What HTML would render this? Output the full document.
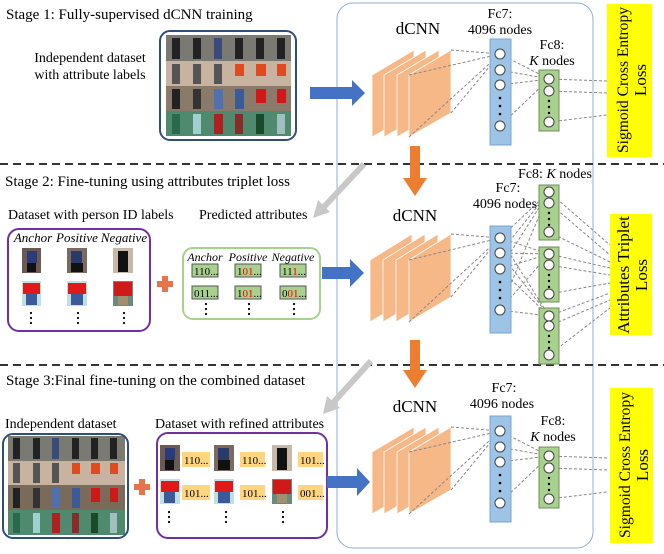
<!DOCTYPE html>
<html><head><meta charset="utf-8"><style>
html,body{margin:0;padding:0;background:#fff;}
svg{display:block;font-family:"Liberation Serif",serif;}
</style></head><body>
<svg width="664" height="554" viewBox="0 0 664 554" xmlns="http://www.w3.org/2000/svg">
<defs>
<g id="layers1">
<polygon points="372,75 414,50 414,113 372,137" fill="#F7B888" stroke="#fff" stroke-width="0.8"/>
<polygon points="384,75 426,50 426,113 384,137" fill="#F7B888" stroke="#fff" stroke-width="0.8"/>
<polygon points="397,75 439,50 439,113 397,137" fill="#F7B888" stroke="#fff" stroke-width="0.8"/>
<polygon points="409,75 451,50 451,113 409,137" fill="#F7B888" stroke="#fff" stroke-width="0.8"/>
</g>
<g id="net1">
<use href="#layers1"/>
<g stroke="#888" stroke-width="1" stroke-dasharray="3,2" fill="none">
<line x1="451" y1="50" x2="500" y2="54"/><line x1="409" y1="75" x2="500" y2="54"/>
<line x1="451" y1="113" x2="500" y2="54"/><line x1="409" y1="137" x2="500" y2="54"/>
<line x1="500" y1="54" x2="549" y2="79"/><line x1="500" y1="70" x2="549" y2="79"/>
<line x1="500" y1="85" x2="549" y2="79"/><line x1="500" y1="126" x2="549" y2="79"/>
<line x1="549" y1="79" x2="607" y2="81"/><line x1="549" y1="91" x2="607" y2="93"/>
<line x1="549" y1="122" x2="607" y2="115"/>
</g>
<rect x="490" y="39" width="21" height="106" fill="#9DC3E6" stroke="#7AA6D0"/>
<g fill="#fff" stroke="#444" stroke-width="1">
<circle cx="500" cy="54" r="5"/><circle cx="500" cy="70" r="5"/><circle cx="500" cy="85" r="5"/><circle cx="500" cy="126" r="5"/>
</g>
<g fill="#000"><circle cx="500" cy="98" r="1.3"/><circle cx="500" cy="106" r="1.3"/><circle cx="500" cy="114" r="1.3"/></g>
<rect x="539" y="70" width="20" height="61" fill="#A9D18E" stroke="#6F8F5A"/>
<g fill="#fff" stroke="#444" stroke-width="1">
<circle cx="549" cy="79" r="5"/><circle cx="549" cy="91" r="5"/><circle cx="549" cy="122" r="5"/>
</g>
<g fill="#000"><circle cx="549" cy="101" r="1.2"/><circle cx="549" cy="107" r="1.2"/><circle cx="549" cy="113" r="1.2"/></g>
</g>
</defs>

<rect x="337" y="3" width="256" height="545" rx="16" fill="none" stroke="#8EAFD0" stroke-width="1"/>
<line x1="0" y1="164" x2="664" y2="164" stroke="#333" stroke-width="2" stroke-dasharray="8,5"/>
<line x1="0" y1="365" x2="664" y2="365" stroke="#333" stroke-width="2" stroke-dasharray="8,5"/>

<!-- Stage 1 -->
<text x="6" y="19" font-size="15">Stage 1: Fully-supervised dCNN training</text>
<text x="90" y="62" font-size="14" text-anchor="middle">Independent dataset</text>
<text x="90" y="79" font-size="14" text-anchor="middle">with attribute labels</text>
<g>
<rect x="166" y="35" width="125" height="26" fill="#7a7a72"/>
<rect x="166" y="61" width="125" height="25" fill="#c7b3a0"/>
<rect x="166" y="86" width="125" height="25" fill="#8a7a6a"/>
<rect x="166" y="111" width="125" height="25" fill="#4f8a6e"/>
<g fill="#222"><rect x="172" y="38" width="8" height="21"/><rect x="193" y="38" width="8" height="21"/><rect x="214" y="38" width="8" height="21" fill="#3a4a7a"/><rect x="235" y="38" width="8" height="21"/><rect x="256" y="38" width="8" height="21"/><rect x="277" y="38" width="8" height="21"/></g>
<g fill="#555"><rect x="172" y="64" width="8" height="20"/><rect x="193" y="64" width="8" height="20"/><rect x="214" y="64" width="8" height="20"/></g>
<g fill="#e04a20"><rect x="235" y="64" width="9" height="12"/><rect x="256" y="64" width="10" height="12"/><rect x="277" y="64" width="9" height="12"/></g>
<g><rect x="172" y="89" width="8" height="20" fill="#222"/><rect x="193" y="89" width="8" height="20" fill="#333"/><rect x="214" y="89" width="9" height="20" fill="#5070b0"/><rect x="235" y="89" width="9" height="20" fill="#3a5a9a"/><rect x="256" y="89" width="10" height="14" fill="#d01818"/><rect x="277" y="89" width="9" height="14" fill="#d01818"/></g>
<g><rect x="172" y="114" width="8" height="20" fill="#2a6a4a"/><rect x="193" y="114" width="8" height="20" fill="#a0d0d0"/><rect x="214" y="114" width="9" height="20" fill="#b02020"/><rect x="235" y="114" width="8" height="20" fill="#8a2a2a"/><rect x="256" y="114" width="8" height="20" fill="#1a4a2a"/><rect x="277" y="114" width="8" height="20" fill="#a0c0c0"/></g>
</g>
<rect x="160" y="31" width="136" height="109" rx="10" fill="none" stroke="#2F4F7A" stroke-width="2"/>
<polygon points="310,87 352,87 352,80 365,93 352,106 352,99 310,99" fill="#4472C4"/>

<use href="#net1"/>
<text x="418" y="34" font-size="17" text-anchor="middle">dCNN</text>
<text x="500" y="18" font-size="14" text-anchor="middle">Fc7:</text>
<text x="500" y="34" font-size="14" text-anchor="middle">4096 nodes</text>
<text x="552" y="49" font-size="14" text-anchor="middle">Fc8:</text>
<text x="552" y="65" font-size="14" text-anchor="middle"><tspan font-style="italic">K</tspan> nodes</text>
<rect x="607" y="4" width="45" height="153" fill="#FFFF00"/>
<text transform="translate(628,80) rotate(-90)" font-size="16" text-anchor="middle" textLength="146" lengthAdjust="spacingAndGlyphs">Sigmoid Cross Entropy</text>
<text transform="translate(646,80) rotate(-90)" font-size="17" text-anchor="middle">Loss</text>

<polygon points="410,146 420,146 420,178 427,178 415,196 403,178 410,178" fill="#ED7D31"/>
<polygon points="410,340 420,340 420,370 427,370 415,388 403,370 410,370" fill="#ED7D31"/>
<line x1="364" y1="164" x2="322" y2="209" stroke="#C8C8C8" stroke-width="6"/>
<polygon points="313,218 318,200 330,212" fill="#C8C8C8"/>
<line x1="371" y1="361" x2="331" y2="405" stroke="#C8C8C8" stroke-width="6"/>
<polygon points="323,414 327,396 340,408" fill="#C8C8C8"/>

<!-- Stage 2 -->
<text x="5" y="186" font-size="15">Stage 2: Fine-tuning using attributes triplet loss</text>
<text x="8" y="219" font-size="14">Dataset with person ID labels</text>
<text x="199" y="219" font-size="14">Predicted attributes</text>
<rect x="8" y="229" width="142" height="102" rx="11" fill="none" stroke="#7030A0" stroke-width="2"/>
<g font-size="13" font-style="italic" text-anchor="middle">
<text x="33" y="242">Anchor</text><text x="77" y="242">Positive</text><text x="124" y="242">Negative</text>
</g>
<g>
<rect x="22" y="248" width="19" height="25" fill="#6a5a52"/><rect x="27" y="251" width="10" height="12" fill="#2a3a7a"/><rect x="27" y="263" width="9" height="9" fill="#111"/>
<rect x="67" y="248" width="20" height="25" fill="#7a6a62"/><rect x="71" y="251" width="11" height="12" fill="#2a3a6a"/><rect x="71" y="263" width="12" height="9" fill="#111"/>
<rect x="113" y="248" width="20" height="25" fill="#c8b8a8"/><rect x="118" y="251" width="10" height="21" fill="#111"/>
<rect x="22" y="281" width="19" height="25" fill="#bfe0e0"/><rect x="23" y="283" width="17" height="11" fill="#e01818"/><rect x="26" y="294" width="11" height="11" fill="#3a5a9a"/>
<rect x="67" y="281" width="20" height="25" fill="#bfe0e0"/><rect x="68" y="283" width="18" height="11" fill="#e01818"/><rect x="71" y="294" width="12" height="11" fill="#3a5a9a"/>
<rect x="113" y="281" width="20" height="25" fill="#6a8a80"/><rect x="114" y="282" width="18" height="14" fill="#d01a1a"/><rect x="118" y="296" width="10" height="9" fill="#a09070"/>
</g>
<g fill="#000"><circle cx="31" cy="313" r="1.1"/><circle cx="31" cy="318" r="1.1"/><circle cx="31" cy="323" r="1.1"/>
<circle cx="78" cy="313" r="1.1"/><circle cx="78" cy="318" r="1.1"/><circle cx="78" cy="323" r="1.1"/>
<circle cx="124" cy="313" r="1.1"/><circle cx="124" cy="318" r="1.1"/><circle cx="124" cy="323" r="1.1"/></g>
<rect x="157" y="281" width="16" height="6" fill="#E8734A"/><rect x="162" y="276" width="6" height="16" fill="#E8734A"/>
<rect x="183" y="248" width="137" height="71" rx="10" fill="none" stroke="#A9D18E" stroke-width="2"/>
<g font-size="12" font-style="italic" text-anchor="middle">
<text x="205" y="261">Anchor</text><text x="248" y="261">Positive</text><text x="293" y="261">Negative</text>
</g>
<g fill="#A9D18E" stroke="#555" stroke-width="1">
<rect x="192" y="264" width="26" height="13"/><rect x="235" y="264" width="26" height="13"/><rect x="280" y="264" width="26" height="13"/>
<rect x="192" y="286" width="26" height="13"/><rect x="235" y="286" width="26" height="13"/><rect x="280" y="286" width="26" height="13"/>
</g>
<g font-size="11">
<text x="194" y="275">110...</text>
<text x="237" y="275"><tspan>1</tspan><tspan fill="#e00">01</tspan>...</text>
<text x="282" y="275">11<tspan fill="#e00">1</tspan>...</text>
<text x="194" y="297">011...</text>
<text x="237" y="297">1<tspan fill="#e00">01</tspan>...</text>
<text x="282" y="297">0<tspan fill="#e00">01</tspan>...</text>
</g>
<g fill="#000"><circle cx="206" cy="304" r="1.1"/><circle cx="206" cy="309" r="1.1"/><circle cx="206" cy="314" r="1.1"/>
<circle cx="249" cy="304" r="1.1"/><circle cx="249" cy="309" r="1.1"/><circle cx="249" cy="314" r="1.1"/>
<circle cx="294" cy="304" r="1.1"/><circle cx="294" cy="309" r="1.1"/><circle cx="294" cy="314" r="1.1"/></g>
<polygon points="322,267 350,267 350,259 364,273 350,287 350,279 322,279" fill="#4472C4"/>

<g fill="#F7B888" stroke="#fff" stroke-width="0.8">
<polygon points="370,260 412,234 412,297 370,322"/>
<polygon points="383,260 425,234 425,297 383,322"/>
<polygon points="396,260 438,234 438,297 396,322"/>
<polygon points="409,260 451,234 451,297 409,322"/>
</g>
<g stroke="#888" stroke-width="1" stroke-dasharray="3,2" fill="none">
<line x1="451" y1="234" x2="500" y2="238"/><line x1="409" y1="260" x2="500" y2="238"/>
<line x1="451" y1="297" x2="500" y2="238"/><line x1="409" y1="322" x2="500" y2="238"/>
<line x1="500" y1="238" x2="549" y2="192"/><line x1="500" y1="253" x2="549" y2="192"/><line x1="500" y1="269" x2="549" y2="192"/><line x1="500" y1="310" x2="549" y2="192"/>
<line x1="500" y1="238" x2="549" y2="254"/><line x1="500" y1="253" x2="549" y2="254"/><line x1="500" y1="269" x2="549" y2="254"/><line x1="500" y1="310" x2="549" y2="254"/>
<line x1="500" y1="238" x2="549" y2="316"/><line x1="500" y1="253" x2="549" y2="316"/><line x1="500" y1="269" x2="549" y2="316"/><line x1="500" y1="310" x2="549" y2="316"/>
<line x1="549" y1="192" x2="610" y2="245"/><line x1="549" y1="203" x2="610" y2="255"/><line x1="549" y1="232" x2="610" y2="262"/>
<line x1="549" y1="254" x2="610" y2="268"/><line x1="549" y1="265" x2="610" y2="275"/><line x1="549" y1="294" x2="610" y2="283"/>
<line x1="549" y1="316" x2="610" y2="293"/><line x1="549" y1="326" x2="610" y2="300"/><line x1="549" y1="355" x2="610" y2="308"/>
</g>
<rect x="490" y="226" width="21" height="107" fill="#9DC3E6" stroke="#7AA6D0"/>
<g fill="#fff" stroke="#444"><circle cx="500" cy="238" r="5"/><circle cx="500" cy="253" r="5"/><circle cx="500" cy="269" r="5"/><circle cx="500" cy="310" r="5"/></g>
<g fill="#000"><circle cx="500" cy="282" r="1.3"/><circle cx="500" cy="290" r="1.3"/><circle cx="500" cy="298" r="1.3"/></g>
<g fill="#A9D18E" stroke="#6F8F5A">
<rect x="539" y="185" width="20" height="55"/><rect x="539" y="247" width="20" height="55"/><rect x="539" y="308" width="20" height="56"/>
</g>
<g fill="#fff" stroke="#444">
<circle cx="549" cy="192" r="5"/><circle cx="549" cy="203" r="5"/><circle cx="549" cy="232" r="5"/>
<circle cx="549" cy="254" r="5"/><circle cx="549" cy="265" r="5"/><circle cx="549" cy="294" r="5"/>
<circle cx="549" cy="316" r="5"/><circle cx="549" cy="326" r="5"/><circle cx="549" cy="355" r="5"/>
</g>
<g fill="#000">
<circle cx="549" cy="213" r="1.2"/><circle cx="549" cy="219" r="1.2"/><circle cx="549" cy="225" r="1.2"/>
<circle cx="549" cy="275" r="1.2"/><circle cx="549" cy="281" r="1.2"/><circle cx="549" cy="287" r="1.2"/>
<circle cx="549" cy="336" r="1.2"/><circle cx="549" cy="342" r="1.2"/><circle cx="549" cy="348" r="1.2"/>
</g>
<text x="415" y="221" font-size="17" text-anchor="middle">dCNN</text>
<text x="508" y="192" font-size="14" text-anchor="middle">Fc7:</text>
<text x="505" y="208" font-size="14" text-anchor="middle">4096 nodes</text>
<text x="555" y="178" font-size="14" text-anchor="middle">Fc8: <tspan font-style="italic">K</tspan> nodes</text>
<rect x="610" y="214" width="42" height="121" fill="#FFFF00"/>
<text transform="translate(629,275) rotate(-90)" font-size="17" text-anchor="middle">Attributes Triplet</text>
<text transform="translate(647,275) rotate(-90)" font-size="17" text-anchor="middle">Loss</text>

<!-- Stage 3 -->
<text x="6" y="385" font-size="15">Stage 3:Final fine-tuning on the combined dataset</text>
<text x="5" y="428" font-size="14">Independent dataset</text>
<text x="155" y="428" font-size="14">Dataset with refined attributes</text>
<g>
<rect x="8" y="436" width="117" height="25" fill="#7a7a72"/>
<rect x="8" y="461" width="117" height="24" fill="#c7b3a0"/>
<rect x="8" y="485" width="117" height="25" fill="#7a6a5a"/>
<rect x="8" y="510" width="117" height="25" fill="#4f8a6e"/>
<g fill="#222"><rect x="13" y="438" width="7" height="21"/><rect x="33" y="438" width="7" height="21"/><rect x="52" y="438" width="7" height="21" fill="#3a4a7a"/><rect x="72" y="438" width="7" height="21"/><rect x="91" y="438" width="7" height="21"/><rect x="110" y="438" width="7" height="21"/></g>
<g fill="#555"><rect x="13" y="463" width="7" height="20"/><rect x="33" y="463" width="7" height="20"/><rect x="52" y="463" width="7" height="20"/></g>
<g fill="#e04a20"><rect x="72" y="463" width="8" height="11"/><rect x="91" y="463" width="9" height="11"/><rect x="110" y="463" width="8" height="11"/></g>
<g><rect x="13" y="488" width="7" height="20" fill="#222"/><rect x="33" y="488" width="7" height="20" fill="#333"/><rect x="52" y="488" width="8" height="20" fill="#5070b0"/><rect x="72" y="488" width="8" height="20" fill="#3a5a9a"/><rect x="91" y="488" width="9" height="14" fill="#d01818"/><rect x="110" y="488" width="8" height="14" fill="#d01818"/></g>
<g><rect x="13" y="513" width="7" height="20" fill="#2a6a4a"/><rect x="33" y="513" width="7" height="20" fill="#a0d0d0"/><rect x="52" y="513" width="8" height="20" fill="#b02020"/><rect x="72" y="513" width="7" height="20" fill="#8a2a2a"/><rect x="91" y="513" width="7" height="20" fill="#1a4a2a"/><rect x="110" y="513" width="7" height="20" fill="#a0c0c0"/></g>
</g>
<rect x="3" y="434" width="125" height="104" rx="10" fill="none" stroke="#2F4F7A" stroke-width="2"/>
<rect x="134" y="484" width="16" height="6" fill="#E8734A"/><rect x="139" y="479" width="6" height="16" fill="#E8734A"/>
<rect x="157" y="433" width="170" height="105" rx="11" fill="none" stroke="#7030A0" stroke-width="2"/>
<g>
<rect x="160" y="445" width="20" height="26" fill="#6a5a52"/><rect x="165" y="448" width="10" height="12" fill="#2a3a7a"/><rect x="165" y="460" width="9" height="10" fill="#111"/>
<rect x="214" y="445" width="20" height="26" fill="#7a6a62"/><rect x="218" y="448" width="11" height="12" fill="#2a3a6a"/><rect x="218" y="460" width="12" height="10" fill="#111"/>
<rect x="272" y="445" width="20" height="26" fill="#c8b8a8"/><rect x="277" y="448" width="10" height="22" fill="#111"/>
<rect x="160" y="479" width="20" height="25" fill="#bfe0e0"/><rect x="161" y="481" width="18" height="11" fill="#e01818"/><rect x="164" y="492" width="11" height="11" fill="#3a5a9a"/>
<rect x="214" y="479" width="20" height="25" fill="#bfe0e0"/><rect x="215" y="481" width="18" height="11" fill="#e01818"/><rect x="218" y="492" width="12" height="11" fill="#3a5a9a"/>
<rect x="272" y="479" width="20" height="25" fill="#6a8a80"/><rect x="273" y="480" width="18" height="14" fill="#d01a1a"/><rect x="277" y="494" width="10" height="9" fill="#a09070"/>
</g>
<g fill="#FFD67F">
<rect x="182" y="452" width="28" height="15"/><rect x="240" y="452" width="25" height="15"/><rect x="298" y="452" width="25" height="15"/>
<rect x="182" y="485" width="28" height="15"/><rect x="240" y="485" width="25" height="15"/><rect x="298" y="485" width="25" height="15"/>
</g>
<g font-size="11">
<text x="184" y="464">110...</text><text x="242" y="464">110...</text><text x="300" y="464">101...</text>
<text x="184" y="497">101...</text><text x="242" y="497">101...</text><text x="300" y="497">001...</text>
</g>
<g fill="#000"><circle cx="169" cy="512" r="1.1"/><circle cx="169" cy="517" r="1.1"/><circle cx="169" cy="522" r="1.1"/>
<circle cx="226" cy="512" r="1.1"/><circle cx="226" cy="517" r="1.1"/><circle cx="226" cy="522" r="1.1"/>
<circle cx="283" cy="512" r="1.1"/><circle cx="283" cy="517" r="1.1"/><circle cx="283" cy="522" r="1.1"/></g>
<polygon points="327,476 357,476 357,468 370,482 357,496 357,488 327,488" fill="#4472C4"/>

<g transform="translate(0,377)"><use href="#net1"/></g>
<text x="415" y="412" font-size="17" text-anchor="middle">dCNN</text>
<text x="504" y="392" font-size="14" text-anchor="middle">Fc7:</text>
<text x="502" y="408" font-size="14" text-anchor="middle">4096 nodes</text>
<text x="553" y="425" font-size="14" text-anchor="middle">Fc8:</text>
<text x="553" y="441" font-size="14" text-anchor="middle"><tspan font-style="italic">K</tspan> nodes</text>
<rect x="610" y="388" width="43" height="155" fill="#FFFF00"/>
<text transform="translate(630,465) rotate(-90)" font-size="16" text-anchor="middle" textLength="146" lengthAdjust="spacingAndGlyphs">Sigmoid Cross Entropy</text>
<text transform="translate(648,465) rotate(-90)" font-size="17" text-anchor="middle">Loss</text>
</svg>
</body></html>
